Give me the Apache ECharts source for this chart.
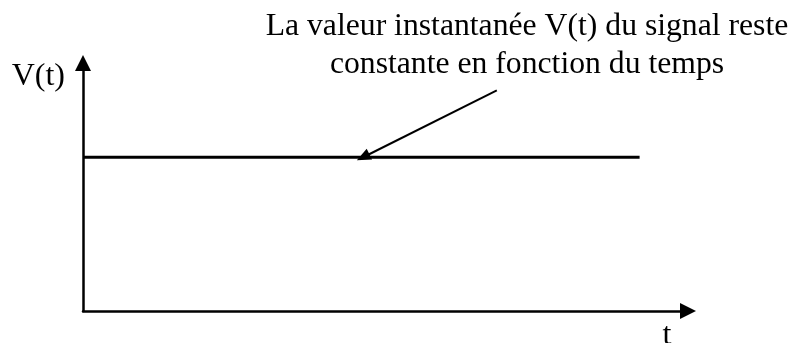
<!DOCTYPE html>
<html><head><meta charset="utf-8">
<script src="https://cdn.jsdelivr.net/npm/echarts@6/dist/echarts.min.js"></script>
<style>html,body{margin:0;padding:0;background:#fff}#c{width:797px;height:343px}</style>
</head><body><div id="c"></div>
<script>
// Data
const timeValues = [0, 92];
const signalValues = [62, 62];
const annotationLines = ['La valeur instantanée V(t) du signal reste', 'constante en fonction du temps'];
const annotationArrowFrom = [68.4, 89];
const annotationArrowTo = [46.3, 62];
const yAxisName = 'V(t)';
const xAxisName = 't';

const FONT = '"Liberation Serif", "Times New Roman", serif';
const chart = echarts.init(document.getElementById('c'), null, {renderer: 'canvas'});
chart.setOption({
  animation: false,
  backgroundColor: '#fff',
  grid: {left: 83, right: 797 - 688, top: 63, bottom: 343 - 311, containLabel: false, outerBoundsMode: 'none'},
  xAxis: {
    type: 'value', min: 0, max: 100,
    name: xAxisName, nameLocation: 'end', nameGap: -21,
    nameTextStyle: {fontFamily: FONT, fontSize: 32, color: '#000', align: 'center', verticalAlign: 'top', padding: [9, 0, 0, 0]},
    axisLine: {show: true, symbol: ['none', 'triangle'], symbolSize: [16, 16], lineStyle: {color: '#000', width: 2.5}},
    axisTick: {show: false}, axisLabel: {show: false}, splitLine: {show: false}
  },
  yAxis: {
    type: 'value', min: 0, max: 100,
    name: yAxisName, nameLocation: 'end', nameGap: -14,
    nameTextStyle: {fontFamily: FONT, fontSize: 32, color: '#000', align: 'right', verticalAlign: 'middle', padding: [0, 18, 0, 0]},
    axisLine: {show: true, symbol: ['none', 'triangle'], symbolSize: [16, 16], lineStyle: {color: '#000', width: 2.5}},
    axisTick: {show: false}, axisLabel: {show: false}, splitLine: {show: false}
  },
  graphic: [{
    type: 'text', x: 527, y: 8,
    style: {text: annotationLines.join('\n'), fontFamily: FONT, fontSize: 31.7, fill: '#000', align: 'center', verticalAlign: 'top', lineHeight: 38}
  }],
  series: [{
    type: 'line',
    data: timeValues.map((t, i) => [t, signalValues[i]]),
    symbol: 'none',
    lineStyle: {color: '#000', width: 3},
    markLine: {
      silent: true,
      symbol: ['none', 'triangle'],
      symbolSize: [12, 14],
      lineStyle: {color: '#000', width: 2, type: 'solid'},
      label: {show: false},
      data: [[{coord: annotationArrowFrom}, {coord: annotationArrowTo}]]
    }
  }]
});
</script></body></html>
